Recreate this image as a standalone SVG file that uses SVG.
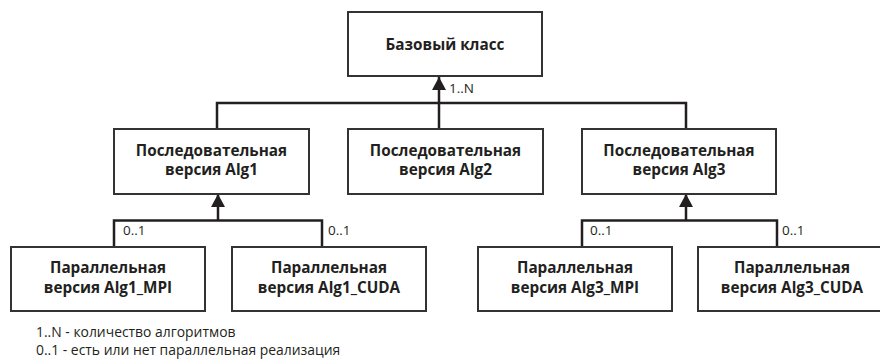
<svg xmlns="http://www.w3.org/2000/svg" width="880" height="359" viewBox="0 0 880 359">
<style>
.box{fill:#fff;stroke:#333;stroke-width:2}
.t{font-family:"Open Sans","Liberation Sans",sans-serif;font-weight:700;font-size:15.3px;fill:#231f20;text-anchor:middle}
.c{fill:none;stroke:#231f20;stroke-width:2.5}
.lbl{font-family:"Open Sans","Liberation Sans",sans-serif;font-size:13.5px;fill:#231f20}
.lg{font-family:"Open Sans","Liberation Sans",sans-serif;font-size:13.9px;fill:#231f20}
</style>
<defs>
<marker id="ah" markerUnits="userSpaceOnUse" markerWidth="14" markerHeight="14" viewBox="0 0 14 14" refX="13" refY="7" orient="auto">
<path d="M0,0 L13,7 L0,14 z" fill="#231f20"/>
</marker>
</defs>
<g id="connectors">
<path class="c" d="M217,129 V103 H686 V129"/>
<path class="c" d="M439,129 V77" marker-end="url(#ah)"/>
<path class="c" d="M114,247 V220.5 H322 V247"/>
<path class="c" d="M218,220.5 V194" marker-end="url(#ah)"/>
<path class="c" d="M582,247 V220.5 H777 V247"/>
<path class="c" d="M686,220.5 V194" marker-end="url(#ah)"/>
<text class="lbl" x="449" y="93">1..N</text>
<text class="lbl" x="123" y="235">0..1</text>
<text class="lbl" x="328" y="235">0..1</text>
<text class="lbl" x="590" y="235">0..1</text>
<text class="lbl" x="782" y="235">0..1</text>
</g>
<g id="base">
<rect class="box" x="348" y="12" width="194" height="64"/>
<text class="t" x="445" y="50">Базовый класс</text>
</g>
<g id="alg1">
<rect class="box" x="114" y="129" width="195" height="65"/>
<text class="t" x="211.5" y="156">Последовательная</text>
<text class="t" x="211.5" y="175">версия Alg1</text>
</g>
<g id="alg2">
<rect class="box" x="348" y="129" width="195" height="65"/>
<text class="t" x="445.5" y="156">Последовательная</text>
<text class="t" x="445.5" y="175">версия Alg2</text>
</g>
<g id="alg3">
<rect class="box" x="582" y="129" width="194" height="65"/>
<text class="t" x="679" y="156">Последовательная</text>
<text class="t" x="679" y="175">версия Alg3</text>
</g>
<g id="alg1mpi">
<rect class="box" x="11" y="247" width="194" height="64"/>
<text class="t" x="108" y="273">Параллельная</text>
<text class="t" x="108" y="293">версия Alg1_MPI</text>
</g>
<g id="alg1cuda">
<rect class="box" x="232" y="247" width="194" height="64"/>
<text class="t" x="329" y="273">Параллельная</text>
<text class="t" x="329" y="293">версия Alg1_CUDA</text>
</g>
<g id="alg3mpi">
<rect class="box" x="478" y="247" width="194" height="64"/>
<text class="t" x="575" y="273">Параллельная</text>
<text class="t" x="575" y="293">версия Alg3_MPI</text>
</g>
<g id="alg3cuda">
<rect class="box" x="698" y="247" width="194" height="64"/>
<text class="t" x="792" y="273">Параллельная</text>
<text class="t" x="792" y="293">версия Alg3_CUDA</text>
</g>
<g id="legend">
<text class="lg" x="36" y="337">1..N - количество алгоритмов</text>
<text class="lg" x="36" y="355">0..1 - есть или нет параллельная реализация</text>
</g>
</svg>
